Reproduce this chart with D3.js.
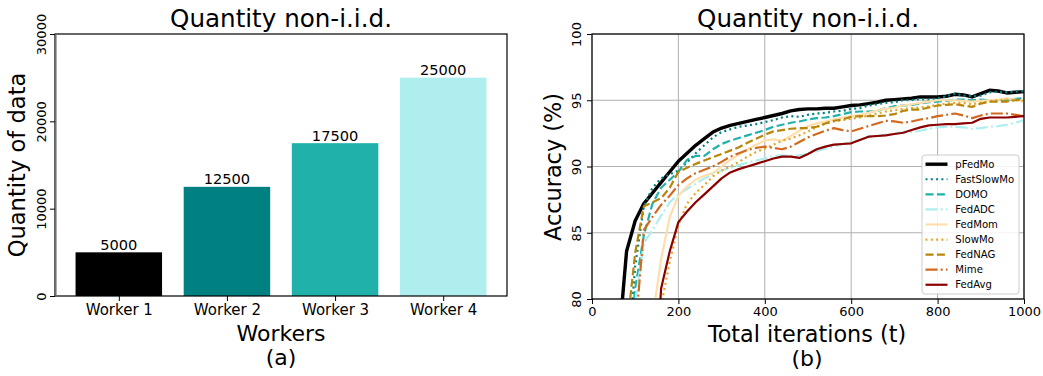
<!DOCTYPE html>
<html><head><meta charset="utf-8">
<script src="https://cdn.jsdelivr.net/npm/d3@7/dist/d3.min.js"></script>
<style>
body{margin:0;background:#fff;}
svg text{font-family:"DejaVu Sans",sans-serif;fill:#000;}
</style></head>
<body><svg id="c" width="1043" height="376"></svg>
<script>
// ---------- Data: panel (a) ----------
const workers = ["Worker 1","Worker 2","Worker 3","Worker 4"];
const quantities = [5000, 12500, 17500, 25000];
const barColors = ["#000000","#008080","#20B2AA","#AFEEEE"];
const barTicks = [0, 10000, 20000, 30000];

// ---------- Data: panel (b) ----------
const iterations = [60,80,100,120,140,160,180,200,220,240,260,280,300,320,340,360,380,400,420,440,460,480,500,520,540,560,580,600,620,640,660,680,700,720,740,760,780,800,820,840,860,880,900,920,940,960,980,1000];
const pFedMo = [76,83.6,85.9,87.2,88.0,88.8,89.6,90.4,91.0,91.6,92.1,92.6,92.9,93.1,93.25,93.4,93.55,93.7,93.85,94.0,94.2,94.3,94.35,94.35,94.4,94.4,94.5,94.6,94.65,94.75,94.85,95.0,95.05,95.1,95.15,95.25,95.25,95.25,95.3,95.45,95.4,95.25,95.5,95.75,95.7,95.55,95.6,95.65];
const FastSlowMo = [null,74,82.5,87.0,88.4,89.1,89.4,89.7,90.3,91.0,91.6,92.2,92.6,92.8,93.0,93.1,93.2,93.35,93.5,93.7,93.8,93.75,93.9,94.0,94.05,94.15,94.2,94.35,94.4,94.6,94.7,94.8,94.85,95.0,95.0,95.1,95.05,95.15,95.3,95.5,95.35,95.3,95.35,95.6,95.65,95.6,95.65,95.7];
const DOMO = [null,74,80.8,84.8,87.2,88.4,89.0,89.6,90.5,90.8,90.8,91.3,91.7,91.95,92.15,92.35,92.55,92.75,93.0,93.15,93.3,93.4,93.55,93.65,93.7,93.8,93.95,94.1,94.15,94.15,94.2,94.4,94.55,94.6,94.65,94.75,94.85,94.9,94.95,95.05,95.05,95.0,95.05,95.0,95.0,95.05,95.1,95.15];
const FedADC = [null,null,79.8,84.2,85.2,86.3,87.3,87.9,88.3,88.7,89.1,89.4,89.7,89.9,90.1,90.3,90.45,90.6,90.8,90.85,90.8,90.85,90.95,91.15,91.35,91.5,91.7,91.85,92.0,92.2,92.3,92.4,92.5,92.55,92.6,92.7,92.85,92.95,93.0,93.0,92.95,92.85,92.9,93.0,93.05,93.15,93.3,93.5];
const FedMom = [null,null,null,null,78.5,83.0,86.2,87.8,88.5,89.0,89.3,89.5,90.0,90.5,90.9,91.3,91.65,91.95,92.05,91.95,92.3,92.7,93.05,93.25,93.4,93.55,93.7,93.8,93.9,94.05,94.25,94.35,94.45,94.6,94.7,94.8,94.9,95.0,95.0,95.0,94.95,94.9,94.95,95.0,95.05,95.15,95.05,94.9];
const SlowMo = [null,null,null,null,null,79.5,82.8,85.6,87.2,88.0,88.6,89.25,89.7,90.0,90.35,90.75,91.1,91.35,91.65,91.95,92.1,92.35,92.65,92.95,93.25,93.4,93.5,93.6,93.7,93.85,94.0,94.15,94.25,94.35,94.4,94.45,94.55,94.65,94.75,94.8,94.8,94.7,94.8,94.9,95.0,95.05,95.0,94.95];
const FedNAG = [null,77.5,83.5,87.0,87.3,87.6,88.4,89.6,89.9,90.2,90.45,90.7,90.95,91.2,91.45,91.8,92.1,92.4,92.65,92.75,92.85,92.9,92.9,93.0,93.25,93.45,93.55,93.75,93.8,93.8,93.8,93.85,93.95,94.2,94.3,94.3,94.45,94.6,94.65,94.7,94.6,94.5,94.75,94.9,94.9,94.9,95.0,95.1];
const Mime = [null,null,77.5,85.2,86.2,87.1,87.8,88.6,89.1,89.5,89.75,90.0,90.35,90.75,91.0,91.25,91.4,91.5,91.4,91.3,91.5,91.85,92.2,92.45,92.7,92.9,92.75,92.65,92.85,93.05,93.25,93.45,93.4,93.3,93.4,93.55,93.65,93.8,93.9,94.0,93.85,93.65,93.85,94.0,94.0,94.0,93.9,93.8];
const FedAvg = [null,null,null,null,70,80.8,83.6,85.8,86.6,87.3,87.9,88.5,89.1,89.55,89.8,90.0,90.2,90.4,90.6,90.75,90.75,90.65,90.95,91.3,91.5,91.65,91.7,91.75,92.0,92.25,92.3,92.35,92.45,92.55,92.75,92.95,93.1,93.15,93.2,93.2,93.25,93.3,93.6,93.7,93.7,93.7,93.75,93.8];
const seriesNames = ["pFedMo","FastSlowMo","DOMO","FedADC","FedMom","SlowMo","FedNAG","Mime","FedAvg"];
const seriesValues = [pFedMo,FastSlowMo,DOMO,FedADC,FedMom,SlowMo,FedNAG,Mime,FedAvg];
const accTicks = [80,85,90,95,100];
const iterTicks = [0,200,400,600,800,1000];

// ---------- Styles ----------
const seriesStyle = [
  {color:"#000000", w:3.4, dash:null},
  {color:"#008080", w:2.2, dash:"2,3.3"},
  {color:"#20B2AA", w:2.2, dash:"8,3.4"},
  {color:"#AFEEEE", w:2.2, dash:"12,3.2,2,3.2"},
  {color:"#FFDEAD", w:2.2, dash:null},
  {color:"#E3A828", w:2.2, dash:"2,3.3"},
  {color:"#B8860B", w:2.2, dash:"8,3.4"},
  {color:"#D2691E", w:2.2, dash:"12,3.2,2,3.2"},
  {color:"#8B0000", w:2.2, dash:null}
];

const svg = d3.select("#c");

// =============== Panel (a) ===============
const aL=55, aR=507, aT=34, aB=296;
const xA = d3.scaleLinear().domain([-0.59, 3.59]).range([aL, aR]);
const yA = d3.scaleLinear().domain([0, 30000]).range([aB, aT]);
const gA = svg.append("g");
const barW = xA(0.8) - xA(0);
gA.selectAll("rect.bar").data(quantities).enter().append("rect")
  .attr("x",(d,i)=>xA(i)-barW/2).attr("width",barW)
  .attr("y",d=>yA(d)).attr("height",d=>aB-yA(d))
  .attr("fill",(d,i)=>barColors[i]);
gA.selectAll("text.val").data(quantities).enter().append("text")
  .attr("x",(d,i)=>xA(i)).attr("y",d=>yA(d)-2.5)
  .attr("text-anchor","middle").attr("font-size",14.6).text(d=>d);
// frame
gA.append("rect").attr("x",aL).attr("y",aT).attr("width",aR-aL).attr("height",aB-aT)
  .attr("fill","none").attr("stroke","#000").attr("stroke-width",1.2);
gA.append("line").attr("x1",aL+1).attr("x2",aL+1).attr("y1",aT).attr("y2",aB)
  .attr("stroke","#777").attr("stroke-width",1.2);
// y axis
const axYA = gA.append("g").attr("transform",`translate(${aL},0)`)
  .call(d3.axisLeft(yA).tickValues(barTicks).tickSize(5).tickFormat(d3.format("d")));
axYA.select(".domain").remove();
axYA.selectAll("text").attr("transform","rotate(-90)").attr("x",0).attr("y",-9)
  .attr("dy",0).attr("text-anchor","middle").attr("font-size",13).style("font-family","DejaVu Sans");
// x axis
const axXA = gA.append("g").attr("transform",`translate(0,${aB})`)
  .call(d3.axisBottom(xA).tickValues([0,1,2,3]).tickSize(5).tickFormat(i=>workers[i]));
axXA.select(".domain").remove();
axXA.selectAll("text").attr("y",8).attr("dy","0.71em").attr("font-size",15).style("font-family","DejaVu Sans");
svg.selectAll(".tick line").attr("stroke","#000");
gA.append("text").attr("x",(aL+aR)/2).attr("y",27).attr("text-anchor","middle")
  .attr("font-size",24.6).text("Quantity non-i.i.d.");
gA.append("text").attr("transform","translate(25,165) rotate(-90)").attr("text-anchor","middle")
  .attr("font-size",22.6).text("Quantity of data");
gA.append("text").attr("x",281).attr("y",341).attr("text-anchor","middle")
  .attr("font-size",22).text("Workers");
gA.append("text").attr("x",281).attr("y",365).attr("text-anchor","middle")
  .attr("font-size",22).text("(a)");

// =============== Panel (b) ===============
const bL=592, bR=1024, bT=34, bB=299;
const xB = d3.scaleLinear().domain([0,1000]).range([bL,bR]);
const yB = d3.scaleLinear().domain([80,100]).range([bB,bT]);
const gB = svg.append("g");
svg.append("defs").append("clipPath").attr("id","clipB").append("rect")
  .attr("x",bL).attr("y",bT).attr("width",bR-bL).attr("height",bB-bT);
// grid
gB.selectAll("line.gx").data(iterTicks).enter().append("line")
  .attr("x1",d=>xB(d)).attr("x2",d=>xB(d)).attr("y1",bT).attr("y2",bB)
  .attr("stroke","#b0b0b0").attr("stroke-width",1);
gB.selectAll("line.gy").data(accTicks).enter().append("line")
  .attr("x1",bL).attr("x2",bR).attr("y1",d=>yB(d)).attr("y2",d=>yB(d))
  .attr("stroke","#b0b0b0").attr("stroke-width",1);
// lines
const lineGen = d3.line().defined(d=>d[1]!==null).x(d=>xB(d[0])).y(d=>yB(d[1]));
const gLines = gB.append("g").attr("clip-path","url(#clipB)");
seriesValues.forEach((vals,k)=>{
  const st = seriesStyle[k];
  gLines.append("path").datum(iterations.map((t,i)=>[t,vals[i]]))
    .attr("d",lineGen).attr("fill","none").attr("stroke",st.color)
    .attr("stroke-width",st.w).attr("stroke-dasharray",st.dash)
    .attr("stroke-linejoin","round");
});
// frame
gB.append("rect").attr("x",bL).attr("y",bT).attr("width",bR-bL).attr("height",bB-bT)
  .attr("fill","none").attr("stroke","#000").attr("stroke-width",1.2);
const axYB = gB.append("g").attr("transform",`translate(${bL},0)`)
  .call(d3.axisLeft(yB).tickValues(accTicks).tickSize(5).tickFormat(d3.format("d")));
axYB.select(".domain").remove();
axYB.selectAll("text").attr("transform","rotate(-90)").attr("x",0).attr("y",-11.5)
  .attr("dy",0).attr("text-anchor","middle").attr("font-size",13).style("font-family","DejaVu Sans");
const axXB = gB.append("g").attr("transform",`translate(0,${bB})`)
  .call(d3.axisBottom(xB).tickValues(iterTicks).tickSize(5).tickFormat(d3.format("d")));
axXB.select(".domain").remove();
axXB.selectAll("text").attr("y",7.5).attr("dy","0.71em").attr("font-size",13).style("font-family","DejaVu Sans");
svg.selectAll(".tick line").attr("stroke","#000");
gB.append("text").attr("x",(bL+bR)/2).attr("y",27).attr("text-anchor","middle")
  .attr("font-size",24.6).text("Quantity non-i.i.d.");
gB.append("text").attr("transform","translate(561,167) rotate(-90)").attr("text-anchor","middle")
  .attr("font-size",22.4).text("Accuracy (%)");
gB.append("text").attr("x",807).attr("y",342).attr("text-anchor","middle")
  .attr("font-size",22.3).text("Total iterations (t)");
gB.append("text").attr("x",807).attr("y",366).attr("text-anchor","middle")
  .attr("font-size",22).text("(b)");

// legend
const lg = gB.append("g");
lg.append("rect").attr("x",922).attr("y",155).attr("width",97).attr("height",139)
  .attr("rx",3).attr("fill","#fff").attr("fill-opacity",0.85).attr("stroke","#ccc").attr("stroke-width",1);
seriesNames.forEach((nm,k)=>{
  const y = 164.2 + k*15.07;
  const st = seriesStyle[k];
  lg.append("line").attr("x1",925.5).attr("x2",947.5).attr("y1",y).attr("y2",y)
    .attr("stroke",st.color).attr("stroke-width",st.w).attr("stroke-dasharray",st.dash);
  lg.append("text").attr("x",955.3).attr("y",y).attr("dy","0.36em")
    .attr("font-size",10.1).text(nm);
});
</script></body></html>
